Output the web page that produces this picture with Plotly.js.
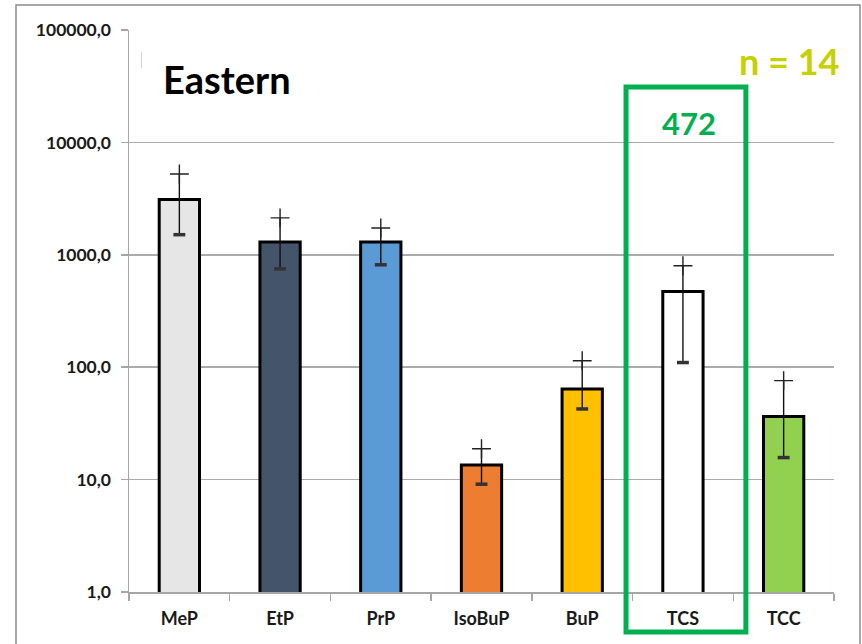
<!DOCTYPE html>
<html>
<head>
<meta charset="utf-8">
<script src="https://cdn.plot.ly/plotly-3.0.1.min.js"></script>
<style>html,body{margin:0;padding:0;background:#fff;}#chart{width:862px;height:644px;}</style>
</head>
<body>
<div id="chart"></div>
<script>
const categories = ['MeP', 'EtP', 'PrP', 'IsoBuP', 'BuP', 'TCS', 'TCC'];
const values = [3100, 1300, 1300, 13.5, 64, 472, 36.5];
const upperVals = [5240, 2130, 1730, 18.8, 114, 800, 76];
const lowerVals = [1510, 750, 815, 9.1, 42.5, 110, 15.7];
const barColors = ['#e7e6e6', '#44546a', '#5b9bd5', '#ed7d31', '#ffc000', '#ffffff', '#92d050'];
const yTickVals = [1, 10, 100, 1000, 10000, 100000];
const yTickText = ['1,0', '10,0', '100,0', '1000,0', '10000,0', '100000,0'];
const chartLabel = 'Eastern';
const nLabel = 'n = 14';
const highlightLabel = '472';

const FONT = 'Lato, "Open Sans", sans-serif';

const bars = {
  type: 'bar',
  x: categories,
  y: values,
  width: 0.4,
  marker: {color: barColors, line: {color: '#000', width: 3}},
  error_y: {
    type: 'data', symmetric: false,
    array: values.map((v, i) => upperVals[i] - v),
    arrayminus: values.map((v, i) => v - lowerVals[i]),
    width: 0, thickness: 1.4, color: '#111'
  },
  hoverinfo: 'skip'
};
const upperCaps = {
  type: 'scatter', mode: 'markers', x: categories, y: upperVals,
  marker: {symbol: 'cross-thin', size: 13.5, line: {color: '#222', width: 1.4}},
  hoverinfo: 'skip', cliponaxis: false
};
const lowerCaps = {
  type: 'scatter', mode: 'markers', x: categories, y: lowerVals,
  marker: {symbol: 'line-ew', size: 8.5, line: {color: '#333', width: 3.5}},
  hoverinfo: 'skip', cliponaxis: false
};

const layout = {
  width: 862, height: 644,
  margin: {l: 129, r: 28, t: 30, b: 52},
  paper_bgcolor: '#fff', plot_bgcolor: '#fff',
  showlegend: false,
  font: {family: FONT, color: '#1a1a1a'},
  xaxis: {
    type: 'category', range: [-0.5, 6.5],
    showline: true, linecolor: '#a6a6a6', linewidth: 1.5,
    ticks: 'outside', tickson: 'boundaries', ticklen: 7, tickcolor: '#a6a6a6', tickwidth: 1.5,
    showgrid: false,
    tickfont: {family: FONT, size: 18, color: '#1a1a1a', weight: 'bold'},
    ticklabelstandoff: 10
  },
  yaxis: {
    type: 'log', range: [0, 5],
    tickvals: yTickVals, ticktext: yTickText,
    showline: true, linecolor: '#a6a6a6', linewidth: 1.5,
    ticks: 'outside', ticklen: 7, tickcolor: '#a6a6a6', tickwidth: 1.5,
    showgrid: true, gridcolor: '#ababab', gridwidth: 1.5,
    zeroline: false,
    tickfont: {family: FONT, size: 17.5, color: '#1a1a1a', weight: 'bold'},
    ticklabelstandoff: 6
  },
  shapes: [
    {type: 'rect', xref: 'paper', yref: 'paper', x0: -0.1603, x1: 1.0369, y0: -0.3, y1: 1.0445,
     line: {color: '#8c8c8c', width: 1.5}, layer: 'below'},
    {type: 'line', xref: 'paper', yref: 'paper', x0: 0.0177, x1: 0.0177, y0: 0.932, y1: 0.961,
     line: {color: '#d0d0d0', width: 1}},
    {type: 'rect', xref: 'paper', yref: 'paper', x0: 0.705, x1: 0.875, y0: -0.0712, y1: 0.8986,
     line: {color: '#00b050', width: 5}}
  ],
  annotations: [
    {text: chartLabel, xref: 'paper', yref: 'paper', x: 0.045, y: 0.913, xanchor: 'left', yanchor: 'middle',
     showarrow: false, font: {family: FONT, size: 38, color: '#000', weight: 'bold'}},
    {text: nLabel, xref: 'paper', yref: 'paper', x: 0.936, y: 0.944, xanchor: 'center', yanchor: 'middle',
     showarrow: false, font: {family: FONT, size: 36, color: '#c5d100', weight: 'bold'}},
    {text: highlightLabel, xref: 'paper', yref: 'paper', x: 0.794, y: 0.834, xanchor: 'center', yanchor: 'middle',
     showarrow: false, font: {family: FONT, size: 31, color: '#00b050', weight: 'bold'}}
  ]
};

Plotly.newPlot('chart', [bars, upperCaps, lowerCaps], layout, {staticPlot: true});
</script>
</body>
</html>
